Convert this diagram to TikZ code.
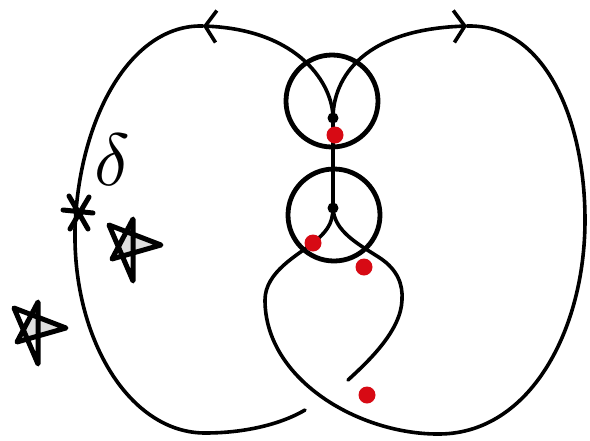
\documentclass[tikz,border=0pt]{standalone}
\usetikzlibrary{arrows.meta}
\definecolor{knotred}{RGB}{215,10,20}
\begin{document}
\begin{tikzpicture}[
    x=0.5pt, y=-0.5pt,
    strand/.style={line width=1.8pt, line cap=round},
    ring/.style={circle, draw, line width=2.4pt, minimum size=46pt, inner sep=0pt},
    vertex/.style={circle, fill=black, minimum size=5.5pt, inner sep=0pt},
    reddot/.style={circle, fill=knotred, minimum size=8.5pt, inner sep=0pt},
    sketch/.style={line width=2.5pt, line cap=round, line join=round},
    chevron/.style={-{Straight Barb[length=5.5pt, width=16pt]}}
]
    \useasboundingbox (0,0) rectangle (590,440);
    \coordinate (top) at (333,118);
    \coordinate (low) at (333,208);
    \coordinate (ltop) at (203,26);
    \coordinate (rtop) at (467,26);
    \coordinate (lend) at (305,410);
    \coordinate (rend) at (348,380);
    \coordinate (ast) at (78,212);

    \node[ring] (upring) at (332,101) {};
    \node[ring] (lowring) at (334,215) {};

    \draw[strand, chevron] (top) .. controls (333,85) and (300,30) .. (ltop);
    \draw[strand] (ltop) .. controls (130,24) and (78,120) .. (75,230)
        .. controls (73,340) and (130,433) .. (205,433)
        .. controls (250,433) and (285,422) .. (lend);
    \draw[strand, chevron] (top) .. controls (333,85) and (355,30) .. (rtop);
    \draw[strand] (rtop) .. controls (545,24) and (585,120) .. (585,220)
        .. controls (585,330) and (530,433) .. (440,434)
        .. controls (360,435) and (265,380) .. (265,300)
        .. controls (265,272) and (298,255) .. (313,243)
        .. controls (325,233) and (333,225) .. (low);
    \draw[strand] (low) .. controls (334,232) and (360,245) .. (380,258)
        .. controls (398,270) and (403,285) .. (402,300)
        .. controls (401,330) and (370,360) .. (rend);
    \draw[strand] (top) -- (low);

    \node[vertex] (topdot) at (top) {};
    \node[vertex] (lowdot) at (low) {};
    \node[reddot] (red1) at (335,135) {};
    \node[reddot] (red2) at (313,243) {};
    \node[reddot] (red3) at (364,267) {};
    \node[reddot] (red4) at (367,395) {};

    \node[scale=3.7] (delta) at (112,160) {$\delta$};
    \draw[sketch] (ast) ++(-15,-2) -- ++(30,3)
        (ast) ++(-9,-16) -- ++(19,33)
        (ast) ++(11,-15) -- ++(-19,32);
    \foreach \px/\py in {133/248, 38/331} {
        \begin{scope}[shift={(\px,\py)}]
            \fill[gray!25] (28,-3) -- (-6.7,-16.3) -- (-14.6,-1.1) -- (-10.7,8.1) -- cycle;
            \draw[sketch] (0,-29) -- (0,33) -- (-24,-23) -- (28,-3) -- (-21,11) -- cycle;
        \end{scope}
    }
\end{tikzpicture}
\end{document}
